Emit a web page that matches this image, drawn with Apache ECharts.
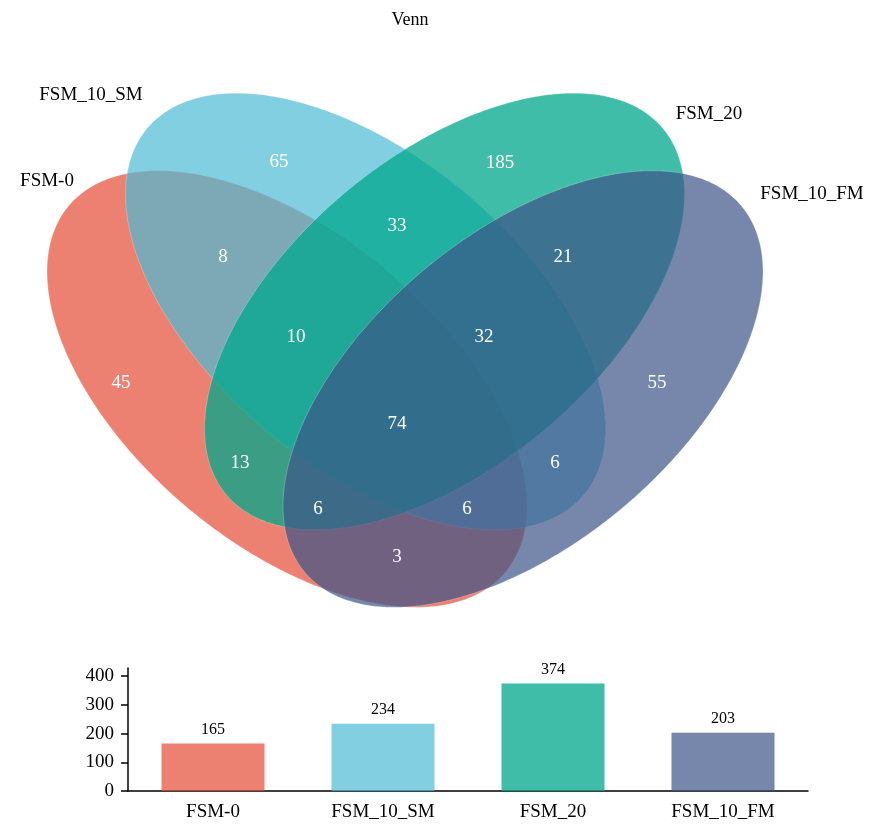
<!DOCTYPE html>
<html><head><meta charset="utf-8">
<script src="https://cdn.jsdelivr.net/npm/echarts@6/dist/echarts.min.js"></script>
<style>html,body{margin:0;padding:0;background:#fff}#c{width:872px;height:829px}</style>
</head><body><div id="c"></div>
<script>
// ---- data ----
const setNames = ['FSM-0', 'FSM_10_SM', 'FSM_20', 'FSM_10_FM'];
const setTotals = [165, 234, 374, 203];
const regionKeys = ['A', 'B', 'C', 'D', 'AB', 'BC', 'CD', 'AD', 'ABC', 'BCD', 'AC', 'BD', 'ACD', 'ABD', 'ABCD'];
const regionCounts = [45, 65, 185, 55, 8, 33, 21, 3, 10, 32, 13, 6, 6, 6, 74];
const yTickValues = [0, 100, 200, 300, 400];

// ---- layout & style (pixels) ----
const setColors = ['rgba(230,75,53,0.7)', 'rgba(77,187,213,0.7)', 'rgba(0,167,140,0.75)', 'rgba(60,84,136,0.7)'];
const ellipseLayout = [
  { cx: 287, cy: 389, rx: 285, ry: 155, rot: 40 },
  { cx: 365.5, cy: 311.5, rx: 285, ry: 155, rot: 40 },
  { cx: 444.5, cy: 311.5, rx: 285, ry: 155, rot: -40 },
  { cx: 523, cy: 389, rx: 285, ry: 155, rot: -40 }
];
const regionLabelPos = {
  A: [121, 383], B: [279, 162], C: [500, 163], D: [657, 383],
  AB: [223, 257], BC: [397, 226], CD: [563, 257], AD: [397, 557],
  ABC: [296, 337], BCD: [484, 337], AC: [240, 463], BD: [555, 463],
  ACD: [318, 509], ABD: [467, 509], ABCD: [397, 424]
};
const setLabelPos = [[47, 181], [91, 95], [709, 114], [812, 194]];
const FONT = '"Liberation Serif", "DejaVu Serif", serif';

const chart = echarts.init(document.getElementById('c'), null, { renderer: 'canvas' });

const regionData = regionKeys.map((k, i) => [regionLabelPos[k][0], regionLabelPos[k][1], regionCounts[i]]);
const setLabelData = setNames.map((n, i) => [setLabelPos[i][0], setLabelPos[i][1], i]);

chart.setOption({
  animation: false,
  backgroundColor: '#fff',
  title: {
    text: 'Venn', left: 405, top: 6, textAlign: 'center',
    textStyle: { fontFamily: FONT, fontWeight: 'normal', fontSize: 18, color: '#000' }
  },
  grid: [
    { left: 0, top: 0, width: 872, height: 829 },
    { left: 128, top: 668, width: 680, height: 123 }
  ],
  xAxis: [
    { gridIndex: 0, type: 'value', min: 0, max: 872, show: false },
    {
      gridIndex: 1, type: 'category', data: setNames,
      axisLine: { lineStyle: { color: '#000', width: 1.5 } },
      axisTick: { alignWithLabel: true, length: 6, lineStyle: { color: '#000', width: 1.5 } },
      axisLabel: { fontFamily: FONT, fontSize: 19, color: '#000', margin: 12 }
    }
  ],
  yAxis: [
    { gridIndex: 0, type: 'value', min: 0, max: 829, inverse: true, show: false },
    {
      gridIndex: 1, type: 'value', min: 0, max: 428, interval: 100,
      axisLine: { show: true, lineStyle: { color: '#000', width: 1.5 } },
      axisTick: { show: true, length: 7, customValues: yTickValues, lineStyle: { color: '#000', width: 1.5 } },
      axisLabel: { fontFamily: FONT, fontSize: 19, color: '#000', margin: 14, customValues: yTickValues },
      splitLine: { show: false }
    }
  ],
  series: [
    {
      type: 'custom', xAxisIndex: 0, yAxisIndex: 0, silent: true,
      data: ellipseLayout.map((e, i) => [e.cx, e.cy, i]),
      renderItem: function (params, api) {
        const e = ellipseLayout[params.dataIndex];
        const t = e.rot * Math.PI / 180;
        const pts = [];
        for (let k = 0; k < 360; k++) {
          const a = k / 360 * Math.PI * 2;
          const u = e.rx * Math.cos(a), v = e.ry * Math.sin(a);
          const x = e.cx + u * Math.cos(t) - v * Math.sin(t);
          const y = e.cy + u * Math.sin(t) + v * Math.cos(t);
          pts.push(api.coord([x, y]));
        }
        return {
          type: 'polygon', shape: { points: pts },
          style: { fill: setColors[params.dataIndex], stroke: 'rgba(255,255,255,0.35)', lineWidth: 0.7 }
        };
      },
      z: 1
    },
    {
      type: 'custom', xAxisIndex: 0, yAxisIndex: 0, silent: true,
      data: regionData,
      renderItem: function (params, api) {
        const p = api.coord([api.value(0), api.value(1)]);
        return {
          type: 'text', x: p[0], y: p[1],
          style: { text: String(api.value(2)), fill: '#fff', fontFamily: FONT, fontSize: 19, align: 'center', verticalAlign: 'middle' }
        };
      },
      z: 5
    },
    {
      type: 'custom', xAxisIndex: 0, yAxisIndex: 0, silent: true,
      data: setLabelData,
      renderItem: function (params, api) {
        const p = api.coord([api.value(0), api.value(1)]);
        return {
          type: 'text', x: p[0], y: p[1],
          style: { text: setNames[params.dataIndex], fill: '#000', fontFamily: FONT, fontSize: 19, align: 'center', verticalAlign: 'middle' }
        };
      },
      z: 5
    },
    {
      type: 'bar', xAxisIndex: 1, yAxisIndex: 1, barWidth: 103,
      data: setTotals.map((v, i) => ({ value: v, itemStyle: { color: setColors[i] } })),
      label: { show: true, position: 'top', distance: 6, fontFamily: FONT, fontSize: 16, color: '#000' }
    }
  ]
});
</script>
</body></html>
